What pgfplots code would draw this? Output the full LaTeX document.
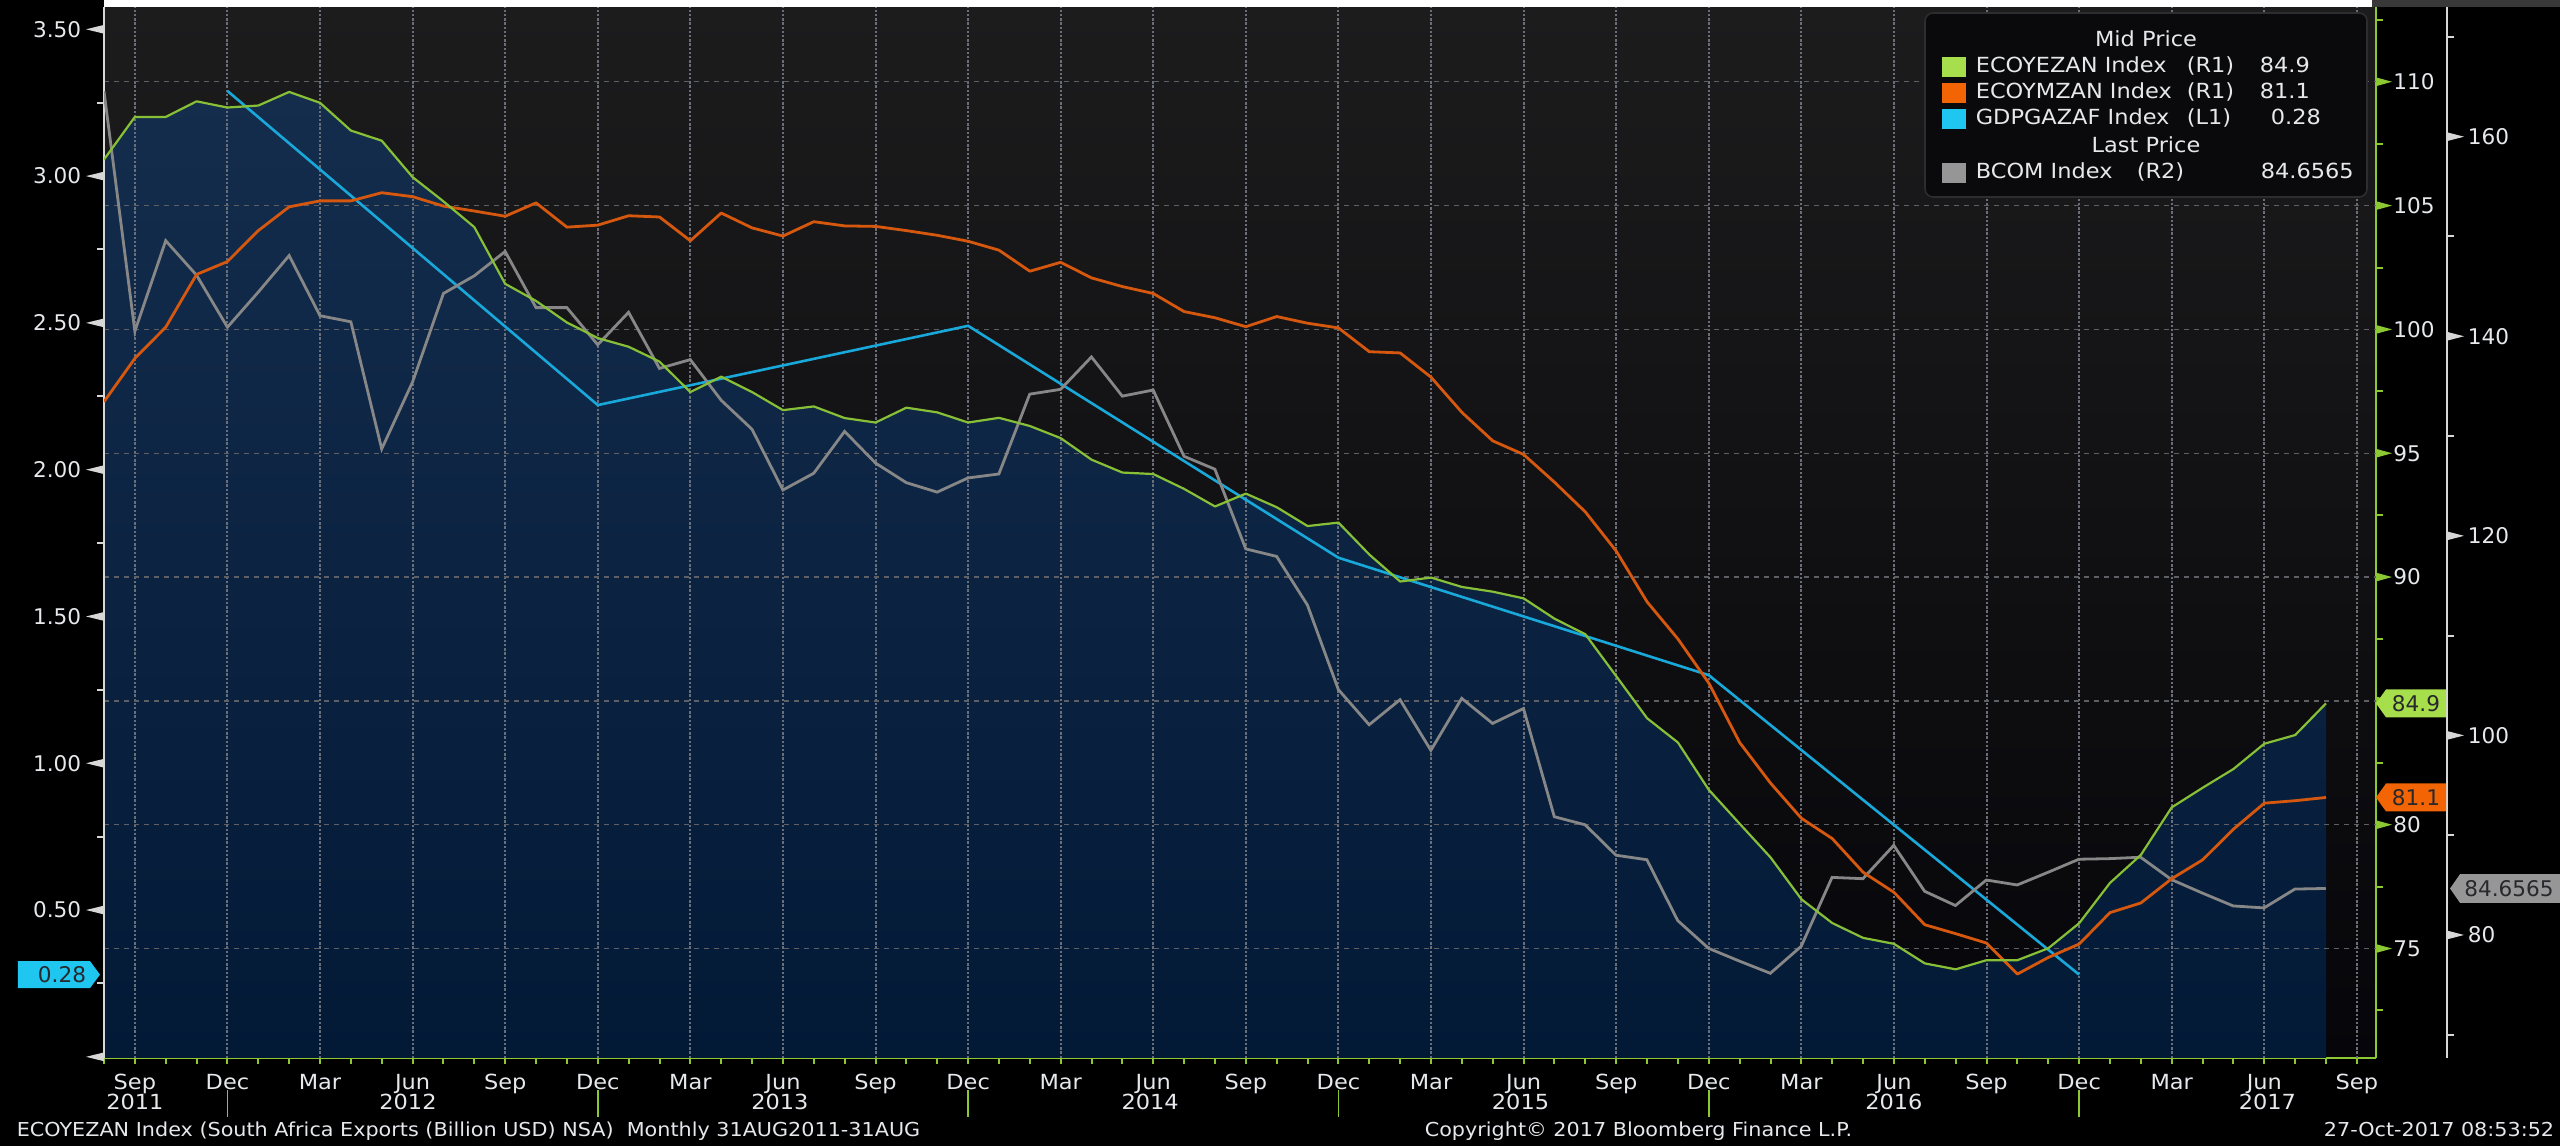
\documentclass[border=0pt]{standalone}
\usepackage{fontspec}
\setmainfont{DejaVu Sans}
\newfontfamily\wide[FakeStretch=1.08]{DejaVu Sans}
\usepackage{pgfplots}
\usepackage{pgfplotstable}
\pgfplotsset{compat=1.18}

\definecolor{bgtop}{RGB}{28,28,29}
\definecolor{bgbot}{RGB}{6,6,10}
\definecolor{areatop}{RGB}{21,45,77}
\definecolor{areabot}{RGB}{2,26,54}
\definecolor{lgreen}{RGB}{135,192,55}
\definecolor{lorange}{RGB}{214,88,14}
\definecolor{lblue}{RGB}{24,168,218}
\definecolor{lgray}{RGB}{135,135,135}
\definecolor{axgreen}{RGB}{140,200,50}
\definecolor{axwhite}{RGB}{215,215,215}
\definecolor{fgreen}{RGB}{166,222,76}
\definecolor{forange}{RGB}{242,100,4}
\definecolor{fblue}{RGB}{30,198,240}
\definecolor{fgray}{RGB}{150,150,150}
\definecolor{txt}{RGB}{230,232,236}
\definecolor{ftxt}{RGB}{40,40,45}
\definecolor{gridvc}{RGB}{105,110,120}
\definecolor{gridhc}{RGB}{95,95,102}
\definecolor{legbg}{RGB}{10,10,12}
\definecolor{legbd}{RGB}{45,45,48}

\newcommand{\tickfont}{\fontsize{5.4pt}{6pt}\selectfont}
\newcommand{\labfont}{\wide\fontsize{5.2pt}{6pt}\selectfont}
\newcommand{\footfont}{\wide\fontsize{4.8pt}{6pt}\selectfont}

\pgfplotstableread{
x y
0 106.86
1 108.58
2 108.58
3 109.21
4 108.96
5 109.04
6 109.59
7 109.15
8 108.03
9 107.62
10 106.15
11 105.17
12 104.13
13 101.84
14 101.15
15 100.28
16 99.65
17 99.30
18 98.70
19 97.47
20 98.09
21 97.47
22 96.74
23 96.89
24 96.42
25 96.24
26 96.84
27 96.65
28 96.24
29 96.43
30 96.10
31 95.61
32 94.74
33 94.22
34 94.16
35 93.56
36 92.85
37 93.37
38 92.82
39 92.06
40 92.20
41 90.91
42 89.82
43 89.98
44 89.60
45 89.41
46 89.14
47 88.32
48 87.69
49 86.00
50 84.30
51 83.32
52 81.41
53 80.04
54 78.68
55 76.99
56 76.03
57 75.43
58 75.19
59 74.40
60 74.16
61 74.53
62 74.53
63 75.01
64 76.02
65 77.65
66 78.78
67 80.70
68 81.49
69 82.25
70 83.27
71 83.62
72 84.90
}\greendata

\pgfplotstableread{
x y
0 97.08
1 98.83
2 100.09
3 102.22
4 102.74
5 103.99
6 104.95
7 105.19
8 105.19
9 105.52
10 105.36
11 104.98
12 104.78
13 104.57
14 105.11
15 104.13
16 104.21
17 104.59
18 104.54
19 103.58
20 104.70
21 104.10
22 103.77
23 104.35
24 104.18
25 104.16
26 103.99
27 103.80
28 103.56
29 103.20
30 102.35
31 102.71
32 102.08
33 101.73
34 101.45
35 100.72
36 100.47
37 100.11
38 100.52
39 100.25
40 100.06
41 99.10
42 99.05
43 98.07
44 96.65
45 95.50
46 94.95
47 93.83
48 92.63
49 91.05
50 89.00
51 87.50
52 85.72
53 83.32
54 81.68
55 80.26
56 79.44
57 78.08
58 77.27
59 75.96
60 75.60
61 75.22
62 73.97
63 74.64
64 75.18
65 76.45
66 76.84
67 77.82
68 78.58
69 79.82
70 80.87
71 80.97
72 81.10
}\orangedata

\pgfplotstableread{
x y
0 164.55
1 140.50
2 149.58
3 146.12
4 140.91
5 144.43
6 148.09
7 142.06
8 141.45
9 128.71
10 135.42
11 144.29
12 146.06
13 148.50
14 142.87
15 142.87
16 139.15
17 142.40
18 136.78
19 137.66
20 133.59
21 130.68
22 124.59
23 126.27
24 130.47
25 127.30
26 125.33
27 124.38
28 125.80
29 126.20
30 134.20
31 134.68
32 137.93
33 134.00
34 134.61
35 127.97
36 126.68
37 118.69
38 117.94
39 113.06
40 104.60
41 101.07
42 103.58
43 98.50
44 103.71
45 101.20
46 102.69
47 91.85
48 91.04
49 87.99
50 87.54
51 81.44
52 78.66
53 77.38
54 76.16
55 78.86
56 85.77
57 85.64
58 88.98
59 84.38
60 82.95
61 85.51
62 85.01
63 86.28
64 87.59
65 87.65
66 87.79
67 85.55
68 84.20
69 82.91
70 82.71
71 84.60
72 84.66
}\graydata

\pgfplotstableread{
x y
4 3.29
16 2.22
28 2.49
40 1.70
52 1.30
64 0.28
}\gdpdata

\pgfplotsset{
  base/.style={scale only axis, width=568pt, height=262.75pt,
    at={(26pt,22pt)}, anchor=south west, xmin=0, xmax=73.62,
    enlargelimits=false, clip mode=individual, no markers},
}
\tikzset{
  gridv/.style={draw=gridvc, line width=0.5pt, dash pattern=on 0.6pt off 0.45pt},
  gridh/.style={draw=gridhc, line width=0.35pt, dash pattern=on 1.3pt off 1.2pt},
}

\begin{document}
\begin{tikzpicture}
\path[use as bounding box] (0pt,0pt) rectangle (640pt,286.5pt);
\fill[black] (0pt,0pt) rectangle (640pt,286.5pt);

% ---------- Axis A: background, area, grid, R1 axis, x axis
\begin{axis}[base,
  ymin=70.58, ymax=113.02,
  axis x line*=bottom, axis y line*=right,
  x axis line style={draw=axgreen, line width=0.6pt},
  y axis line style={draw=axgreen, line width=0.7pt},
  axis background/.style={top color=bgtop, bottom color=bgbot},
  tick align=outside,
  xtick={1,4,...,73},
  xticklabels={Sep,Dec,Mar,Jun,Sep,Dec,Mar,Jun,Sep,Dec,Mar,Jun,Sep,Dec,Mar,Jun,Sep,Dec,Mar,Jun,Sep,Dec,Mar,Jun,Sep},
  minor xtick={0,1,...,73},
  major tick length=1.4pt, minor tick length=1.4pt,
  xtick style={draw=axgreen, line width=0.5pt},
  ytick={75,80,90,95,100,105,110},
  yticklabels={75,80,90,95,100,105,110},
  ytick style={draw=none},
  yticklabel style={anchor=west, inner sep=0pt, xshift=2.75pt, font=\tickfont, text=txt},
  xticklabel style={anchor=base, inner sep=0pt, yshift=-6.6pt, font=\labfont, text=txt},
]
\addplot[draw=none, top color=areatop, bottom color=areabot] table[x=x,y=y] {\greendata} |- (axis cs:0,70.58) -- cycle;
\pgfplotsinvokeforeach{1,4,...,73}{\draw[gridv] (axis cs:#1,70.58) -- (axis cs:#1,113.02);}
\pgfplotsinvokeforeach{75,80,...,110}{\draw[gridh] (axis cs:0,#1) -- (axis cs:73.62,#1);}
\pgfplotsinvokeforeach{75,80,...,110}{\fill[axgreen] (axis cs:73.62,#1) ++(0pt,1.1pt) -- ++(4pt,-1.1pt) -- ++(-4pt,-1.1pt) -- cycle;}
\pgfplotsinvokeforeach{72.5,77.5,...,112.5}{\draw[axgreen, line width=0.5pt] (axis cs:73.62,#1) -- ++(1.75pt,0pt);}
\pgfplotsinvokeforeach{4,16,28,40,52,64}{\draw[axgreen, line width=0.4pt] (axis cs:#1,70.58) ++(0pt,-8pt) -- ++(0pt,-6.75pt);}
\node[anchor=base, font=\labfont, text=txt] at ([yshift=-13pt]axis cs:1,70.58) {2011};
\node[anchor=base, font=\labfont, text=txt] at ([yshift=-13pt]axis cs:9.85,70.58) {2012};
\node[anchor=base, font=\labfont, text=txt] at ([yshift=-13pt]axis cs:21.9,70.58) {2013};
\node[anchor=base, font=\labfont, text=txt] at ([yshift=-13pt]axis cs:33.9,70.58) {2014};
\node[anchor=base, font=\labfont, text=txt] at ([yshift=-13pt]axis cs:45.9,70.58) {2015};
\node[anchor=base, font=\labfont, text=txt] at ([yshift=-13pt]axis cs:58,70.58) {2016};
\node[anchor=base, font=\labfont, text=txt] at ([yshift=-13pt]axis cs:70.1,70.58) {2017};
\end{axis}

% ---------- Axis B: L1 (GDP)
\begin{axis}[base,
  ymin=-0.004, ymax=3.576,
  hide x axis, axis y line*=left,
  y axis line style={draw=axwhite, line width=0.7pt},
  ytick={0.5,1,1.5,2,2.5,3,3.5},
  yticklabels={0.50,1.00,1.50,2.00,2.50,3.00,3.50},
  ytick style={draw=none},
  yticklabel style={anchor=east, inner sep=0pt, xshift=-5.5pt, font=\tickfont, text=txt},
]
\addplot[lblue, line width=0.65pt] table[x=x,y=y] {\gdpdata};
\pgfplotsinvokeforeach{0,0.5,1,1.5,2,2.5,3,3.5}{\fill[axwhite] (axis cs:0,#1) ++(0pt,1.1pt) -- ++(-4.5pt,-1.1pt) -- ++(4.5pt,-1.1pt) -- cycle;}
\pgfplotsinvokeforeach{0.25,0.75,1.25,1.75,2.25,2.75,3.25}{\draw[axwhite, line width=0.5pt] (axis cs:0,#1) -- ++(-1.75pt,0pt);}
\fill[fblue] ([xshift=-1pt]axis cs:0,0.28) -- ++(-2.5pt,3.375pt) -- ++(-18pt,0pt) -- ++(0pt,-6.75pt) -- ++(18pt,0pt) -- cycle;
\node[font=\tickfont, text=ftxt, inner sep=0pt] at ([xshift=-10.5pt]axis cs:0,0.28) {0.28};
\end{axis}

% ---------- Axis C: R2 (BCOM)
\begin{axis}[base, width=585.75pt, xmax=75.93,
  ymin=67.67, ymax=173.0,
  hide x axis, axis y line*=right,
  y axis line style={draw=axwhite, line width=0.7pt},
  ytick={80,100,120,140,160},
  yticklabels={80,100,120,140,160},
  ytick style={draw=none},
  yticklabel style={anchor=west, inner sep=0pt, xshift=5pt, font=\tickfont, text=txt},
]
\addplot[lgray, line width=0.7pt] table[x=x,y=y] {\graydata};
\pgfplotsinvokeforeach{80,100,120,140,160}{\fill[axwhite] (axis cs:75.93,#1) ++(0pt,1.1pt) -- ++(4.25pt,-1.1pt) -- ++(-4.25pt,-1.1pt) -- cycle;}
\pgfplotsinvokeforeach{70,90,110,130,150,170}{\draw[axwhite, line width=0.5pt] (axis cs:75.93,#1) -- ++(1.75pt,0pt);}
\fill[fgray] ([xshift=0.75pt]axis cs:75.93,84.6565) -- ++(2.5pt,3.6pt) -- ++(25pt,0pt) -- ++(0pt,-7.2pt) -- ++(-25pt,0pt) -- cycle;
\node[font=\tickfont, text=ftxt, inner sep=0pt] at ([xshift=15.5pt]axis cs:75.93,84.6565) {84.6565};
\end{axis}

% ---------- Axis D: R1 lines on top
\begin{axis}[base, ymin=70.58, ymax=113.02, hide axis]
\addplot[lorange, line width=0.7pt, line join=round] table[x=x,y=y] {\orangedata};
\addplot[lgreen, line width=0.55pt, line join=round] table[x=x,y=y] {\greendata};
\fill[fgreen] (axis cs:73.62,84.9) -- ++(2.5pt,3.5pt) -- ++(15pt,0pt) -- ++(0pt,-7pt) -- ++(-15pt,0pt) -- cycle;
\node[font=\tickfont, text=ftxt, inner sep=0pt] at ([xshift=10pt]axis cs:73.62,84.9) {84.9};
\fill[forange] (axis cs:73.62,81.1) -- ++(2.5pt,3.5pt) -- ++(15pt,0pt) -- ++(0pt,-7pt) -- ++(-15pt,0pt) -- cycle;
\node[font=\tickfont, text=ftxt, inner sep=0pt] at ([xshift=10pt]axis cs:73.62,81.1) {81.1};
\end{axis}

% ---------- top strips
\fill[white] (26pt,284.75pt) rectangle (593pt,286.5pt);
\fill[black!78] (593pt,284.75pt) rectangle (640pt,286.5pt);

% ---------- legend
\fill[legbg, draw=legbd, line width=0.4pt, rounded corners=2pt] (481.25pt,237.25pt) rectangle (591.75pt,283.25pt);
\node[anchor=base, font=\labfont, text=txt, inner sep=0pt] at (536.5pt,274.75pt) {Mid Price};
\fill[fgreen]  (485.5pt,267.25pt) rectangle (491.5pt,272.25pt);
\node[anchor=base west, font=\labfont, text=txt, inner sep=0pt] at (493.75pt,268.25pt) {ECOYEZAN Index};
\node[anchor=base west, font=\labfont, text=txt, inner sep=0pt] at (546.5pt,268.25pt) {(R1)};
\node[anchor=base west, font=\labfont, text=txt, inner sep=0pt] at (564.75pt,268.25pt) {84.9};
\fill[forange] (485.5pt,260.75pt) rectangle (491.5pt,265.75pt);
\node[anchor=base west, font=\labfont, text=txt, inner sep=0pt] at (493.75pt,261.75pt) {ECOYMZAN Index};
\node[anchor=base west, font=\labfont, text=txt, inner sep=0pt] at (546.5pt,261.75pt) {(R1)};
\node[anchor=base west, font=\labfont, text=txt, inner sep=0pt] at (564.75pt,261.75pt) {81.1};
\fill[fblue]   (485.5pt,254.25pt) rectangle (491.5pt,259.25pt);
\node[anchor=base west, font=\labfont, text=txt, inner sep=0pt] at (493.75pt,255.25pt) {GDPGAZAF Index};
\node[anchor=base west, font=\labfont, text=txt, inner sep=0pt] at (546.5pt,255.25pt) {(L1)};
\node[anchor=base west, font=\labfont, text=txt, inner sep=0pt] at (567.5pt,255.25pt) {0.28};
\node[anchor=base, font=\labfont, text=txt, inner sep=0pt] at (536.5pt,248.25pt) {Last Price};
\fill[fgray]   (485.5pt,240.75pt) rectangle (491.5pt,245.75pt);
\node[anchor=base west, font=\labfont, text=txt, inner sep=0pt] at (493.75pt,241.75pt) {BCOM Index};
\node[anchor=base west, font=\labfont, text=txt, inner sep=0pt] at (534pt,241.75pt) {(R2)};
\node[anchor=base west, font=\labfont, text=txt, inner sep=0pt] at (565pt,241.75pt) {84.6565};

% ---------- footer
\node[anchor=base west, font=\footfont, text=txt, inner sep=0pt] at (4pt,2.25pt) {ECOYEZAN Index (South Africa Exports (Billion USD) NSA)\ \ Monthly 31AUG2011-31AUG};
\node[anchor=base west, font=\footfont, text=txt, inner sep=0pt] at (356pt,2.25pt) {Copyright© 2017 Bloomberg Finance L.P.};
\node[anchor=base east, font=\footfont, text=txt, inner sep=0pt] at (638.75pt,2.25pt) {27-Oct-2017 08:53:52};
\end{tikzpicture}
\end{document}
